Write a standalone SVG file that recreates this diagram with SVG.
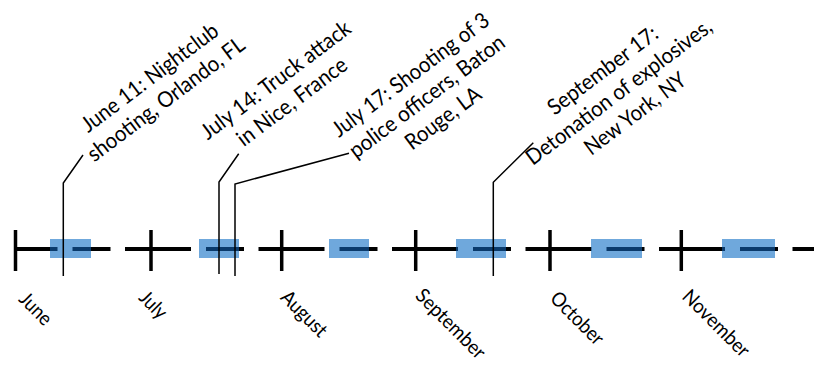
<svg xmlns="http://www.w3.org/2000/svg" width="814" height="365" viewBox="0 0 814 365">
  <style>
    text { font-family: Lato, "Liberation Sans", sans-serif; font-size: 20px; fill: #000; text-anchor: middle; }
    .ev text { font-size: 22px; }
    .axis { stroke: #000; stroke-width: 4; stroke-dasharray: 66 15 38 14.5; stroke-dashoffset: 25.5; fill: none; }
    .axis-in { stroke: #0a3a6b; }
    .tick { stroke: #000; stroke-width: 3.5; }
    .band { fill: #6fa8dc; }
    .lead { stroke: #000; stroke-width: 1.5; fill: none; }
  </style>
  <defs>
    <clipPath id="bandClip">
      <rect x="50" y="239" width="41" height="19"/>
      <rect x="199" y="239" width="40" height="19"/>
      <rect x="329" y="239" width="40" height="19"/>
      <rect x="456" y="239" width="50" height="19"/>
      <rect x="591" y="239" width="51" height="19"/>
      <rect x="722" y="239" width="53" height="19"/>
    </clipPath>
  </defs>
  <rect width="814" height="365" fill="#fff"/>

  <!-- timeline axis -->
  <g id="axis">
    <line class="axis" x1="17" y1="249" x2="814" y2="249"/>
    <g id="bands">
      <rect class="band" x="50" y="239" width="41" height="19"/>
      <rect class="band" x="199" y="239" width="40" height="19"/>
      <rect class="band" x="329" y="239" width="40" height="19"/>
      <rect class="band" x="456" y="239" width="50" height="19"/>
      <rect class="band" x="591" y="239" width="51" height="19"/>
      <rect class="band" x="722" y="239" width="53" height="19"/>
    </g>
    <line class="axis axis-in" x1="17" y1="249" x2="814" y2="249" clip-path="url(#bandClip)"/>
    <g id="ticks">
      <line class="tick" x1="15.5" y1="230" x2="15.5" y2="271"/>
      <line class="tick" x1="151" y1="230" x2="151" y2="271"/>
      <line class="tick" x1="281.7" y1="230" x2="281.7" y2="271"/>
      <line class="tick" x1="415.7" y1="230" x2="415.7" y2="271"/>
      <line class="tick" x1="550" y1="230" x2="550" y2="271"/>
      <line class="tick" x1="681.3" y1="230" x2="681.3" y2="271"/>
    </g>
  </g>

  <!-- month labels -->
  <g id="months">
    <g id="m-june" transform="translate(34.5,310) rotate(45)"><text y="5" textLength="37.3" lengthAdjust="spacingAndGlyphs">June</text></g>
    <g id="m-july" transform="translate(152,306) rotate(45)"><text y="5" textLength="30.5" lengthAdjust="spacingAndGlyphs">July</text></g>
    <g id="m-august" transform="translate(303,315) rotate(45)"><text y="5" textLength="56.5" lengthAdjust="spacingAndGlyphs">August</text></g>
    <g id="m-september" transform="translate(449.5,325) rotate(45)"><text y="5" textLength="89.7" lengthAdjust="spacingAndGlyphs">September</text></g>
    <g id="m-october" transform="translate(576,319.5) rotate(45)"><text y="5" textLength="66.4" lengthAdjust="spacingAndGlyphs">October</text></g>
    <g id="m-november" transform="translate(715,324.5) rotate(45)"><text y="5" textLength="85.9" lengthAdjust="spacingAndGlyphs">November</text></g>
  </g>

  <!-- leader lines from events to the axis -->
  <g id="connectors">
    <polyline class="lead" points="63.3,276 63.3,183 83,155"/>
    <polyline class="lead" points="219,274 219,182 238.7,153.7"/>
    <polyline class="lead" points="235,276 235,184 349,153.3"/>
    <polyline class="lead" points="493.3,276 493.3,182.3 533.3,142.7"/>
  </g>

  <!-- event labels -->
  <g id="ev-orlando" class="ev" transform="translate(159,90) rotate(-37)">
    <text y="-8" textLength="165.3" lengthAdjust="spacingAndGlyphs">June 11: Nightclub</text>
    <text y="19" textLength="190.5" lengthAdjust="spacingAndGlyphs">shooting, Orlando, FL</text>
  </g>
  <g id="ev-nice" class="ev" transform="translate(285,92.5) rotate(-37)">
    <text y="-8" textLength="181.1" lengthAdjust="spacingAndGlyphs">July 14: Truck attack</text>
    <text y="19" textLength="131.7" lengthAdjust="spacingAndGlyphs">in Nice, France</text>
  </g>
  <g id="ev-baton-rouge" class="ev" transform="translate(428,98) rotate(-37)">
    <text y="-21.5" textLength="190.3" lengthAdjust="spacingAndGlyphs">July 17: Shooting of 3</text>
    <text y="5.5" textLength="188.5" lengthAdjust="spacingAndGlyphs">police officers, Baton</text>
    <text y="32.5" textLength="88.9" lengthAdjust="spacingAndGlyphs">Rouge, LA</text>
  </g>
  <g id="ev-new-york" class="ev" transform="translate(620,93.5) rotate(-37)">
    <text y="-21.5" textLength="131.9" lengthAdjust="spacingAndGlyphs">September 17:</text>
    <text y="5.5" textLength="226.6" lengthAdjust="spacingAndGlyphs">Detonation of explosives,</text>
    <text y="32.5" textLength="121.3" lengthAdjust="spacingAndGlyphs">New York, NY</text>
  </g>
</svg>
